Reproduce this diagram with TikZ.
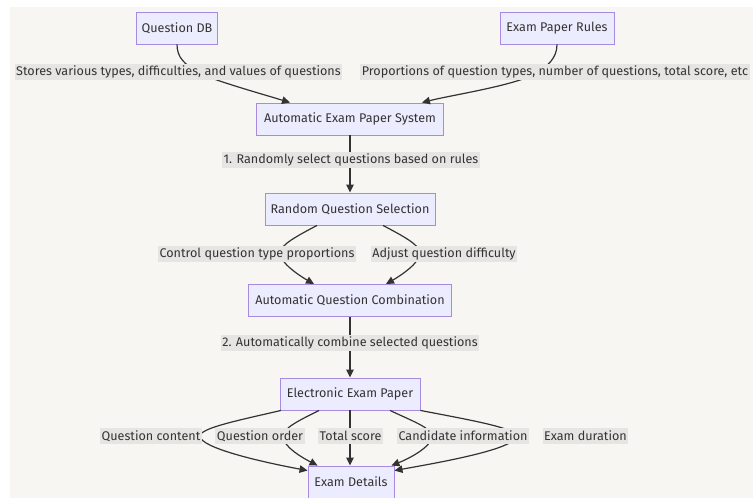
\documentclass[tikz,border=0pt]{standalone}
\usepackage{fontspec}
\setmainfont{Fira Sans}
\usetikzlibrary{arrows.meta,calc}
\definecolor{bgc}{HTML}{F8F6F3}
\definecolor{boxfill}{HTML}{ECECFF}
\definecolor{boxline}{HTML}{A78BE3}
\definecolor{txt}{HTML}{333333}
\definecolor{lblbg}{HTML}{E6E5E3}
\tikzset{
  box/.style={draw=boxline, fill=boxfill, line width=0.9pt, minimum height=32pt, text=txt, inner sep=0pt, font=\fontsize{12.6}{14}\selectfont},
  lbl/.style={fill=lblbg, text=txt, inner xsep=1.5pt, inner ysep=0pt, minimum height=16pt, font=\fontsize{12.6}{14}\selectfont},
  edge/.style={draw=txt, line width=1.2pt, -{Triangle[length=8pt,width=7.5pt]}}
}
\begin{document}
\begin{tikzpicture}[x=1pt,y=1pt]
\useasboundingbox (0,0) rectangle (753,-498);
\fill[white] (0,0) rectangle (753,-498);
\fill[bgc] (10,-7) rectangle (753,-498);
% boxes
\node[box, minimum width=81pt] (qdb) at (177,-28) {Question DB};
\node[box, minimum width=114pt] (epr) at (557,-28) {Exam Paper Rules};
\node[box, minimum width=187pt] (aeps) at (350,-119) {Automatic Exam Paper System};
\node[box, minimum width=170pt] (rqs) at (350,-209) {Random Question Selection};
\node[box, minimum width=203pt] (aqc) at (350,-300.5) {Automatic Question Combination};
\node[box, minimum width=140pt] (eep) at (350,-394) {Electronic Exam Paper};
\node[box, minimum width=86pt] (ed) at (351,-482) {Exam Details};
% edges
\draw[edge] (qdb.south) .. controls (177,-58) and (185,-64) .. (197,-72)
  .. controls (212,-80) and (262,-94) .. ([xshift=-60pt]aeps.north);
\draw[edge] (epr.south) .. controls (557,-58) and (548,-66) .. (535,-74)
  .. controls (512,-86) and (452,-95) .. ([xshift=72pt]aeps.north);
\draw[edge] (aeps.south) -- (rqs.north);
\draw[edge] ([xshift=-33pt]rqs.south) .. controls (297,-236) and (280,-245) .. (280,-253)
  .. controls (280,-263) and (300,-276) .. ([xshift=-36pt]aqc.north);
\draw[edge] ([xshift=33pt]rqs.south) .. controls (403,-236) and (420,-245) .. (420,-253)
  .. controls (420,-263) and (400,-276) .. ([xshift=36pt]aqc.north);
\draw[edge] (aqc.south) -- (eep.north);
\draw[edge] ([xshift=-69pt]eep.south) .. controls (240,-420) and (200,-428) .. (200,-436)
  .. controls (200,-448) and (262,-462) .. ([yshift=-5pt]ed.north west);
\draw[edge] ([xshift=-31pt]eep.south) .. controls (300,-420) and (283,-428) .. (283,-436)
  .. controls (283,-447) and (303,-458) .. ([xshift=10pt]ed.north west);
\draw[edge] (eep.south) -- (ed.north -| eep.south);
\draw[edge] ([xshift=40pt]eep.south) .. controls (410,-420) and (432,-428) .. (432,-436)
  .. controls (432,-447) and (408,-459) .. ([xshift=-3pt]ed.north east);
\draw[edge] (eep.south east) .. controls (470,-420) and (516,-428) .. (516,-436)
  .. controls (516,-449) and (442,-462) .. ([yshift=-5pt]ed.north east);
% labels
\node[lbl] (l1) at (178.5,-72) {Stores various types, difficulties, and values of questions};
\node[lbl] (l2) at (555,-72) {Proportions of question types, number of questions, total score, etc};
\node[lbl] (l3) at (351,-160) {1. Randomly select questions based on rules};
\node[lbl] (l4) at (257,-254) {Control question type proportions};
\node[lbl] (l5) at (444,-254) {Adjust question difficulty};
\node[lbl] (l6) at (350,-343) {2. Automatically combine selected questions};
\node[lbl] (l7) at (151,-436) {Question content};
\node[lbl] (l8) at (260,-436) {Question order};
\node[lbl] (l9) at (350.5,-436) {Total score};
\node[lbl] (l10) at (463,-436) {Candidate information};
\node[lbl] (l11) at (585.5,-436) {Exam duration};
\end{tikzpicture}
\end{document}
